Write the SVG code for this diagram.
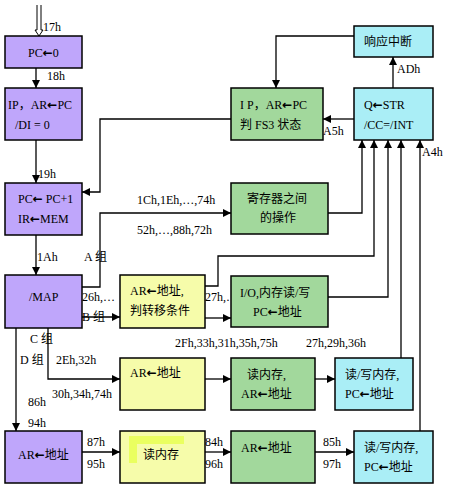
<svg xmlns="http://www.w3.org/2000/svg" width="449" height="489" viewBox="0 0 449 489">
<defs>
<marker id="ah" markerUnits="userSpaceOnUse" markerWidth="9" markerHeight="9" refX="8" refY="4" orient="auto">
<path d="M0,0 L8,4 L0,8 Z" fill="#000"/>
</marker>
<style>
.box{stroke:#000;stroke-width:1.5}
.p{fill:#bfa6fb}
.g{fill:#a2d89c}
.b{fill:#aaeef6}
.y{fill:#f6fcaa}
text{font-family:'Liberation Serif','Noto Sans CJK SC',serif;font-size:12px;fill:#000}
.a{font-family:'DejaVu Sans',sans-serif;font-weight:bold;font-size:12px}
.c{fill:none;stroke:#000;stroke-width:1.3;marker-end:url(#ah)}
</style>
</defs>
<rect width="449" height="489" fill="#fff"/>

<g id="start">
<path d="M37,5 V30 H35 L39,36 L43,30 H41 V5" fill="#fff" stroke="#000" stroke-width="1"/>
</g>

<g id="connectors">
<path class="c" d="M36,68 V88"/>
<path class="c" d="M36,140 V183"/>
<path class="c" d="M36,235 V275"/>
<path class="c" d="M231,119 H100 V192 H82"/>
<path class="c" d="M354,36 H276 V88"/>
<path class="c" d="M393,88 V57"/>
<path class="c" d="M354,119 H323"/>
<path class="c" d="M82,287 H100 V213 H231"/>
<path class="c" d="M328,213 H362 V140"/>
<path class="c" d="M82,317 H120"/>
<path class="c" d="M205,286 H218 V256 H374 V140"/>
<path class="c" d="M205,318 H231"/>
<path class="c" d="M328,297 H388 V140"/>
<path class="c" d="M48,328 V379 H120"/>
<path class="c" d="M205,379 H231"/>
<path class="c" d="M315,379 H335"/>
<path class="c" d="M401,358 V140"/>
<path class="c" d="M16,328 V431"/>
<path class="c" d="M82,452 H120"/>
<path class="c" d="M205,452 H231"/>
<path class="c" d="M315,452 H354"/>
<path class="c" d="M420,431 V140"/>
</g>

<g id="labels">
<text x="43" y="31">17h</text>
<text x="47" y="80">18h</text>
<text x="38" y="178">19h</text>
<text x="137" y="204">1Ch,1Eh,…,74h</text>
<text x="137" y="234">52h,…,88h,72h</text>
<text x="37" y="261">1Ah</text>
<text x="84" y="261">A 组</text>
<text x="82" y="301">26h,…</text>
<text x="82" y="321">B 组</text>
<text x="205" y="301">27h,…</text>
<text x="175" y="347">2Fh,33h,31h,35h,75h</text>
<text x="306" y="347">27h,29h,36h</text>
<text x="30" y="343">C 组</text>
<text x="20" y="364">D 组</text>
<text x="56" y="364">2Eh,32h</text>
<text x="52" y="398">30h,34h,74h</text>
<text x="28" y="406">86h</text>
<text x="28" y="427">94h</text>
<text x="87" y="446">87h</text>
<text x="87" y="468">95h</text>
<text x="205" y="446">84h</text>
<text x="205" y="468">96h</text>
<text x="323" y="446">85h</text>
<text x="323" y="468">97h</text>
<text x="397" y="73">ADh</text>
<text x="323" y="135">A5h</text>
<text x="422" y="156">A4h</text>
</g>

<g id="pc0"><rect class="box p" x="5" y="36" width="77" height="32"/><text x="28" y="57">PC<tspan class="a">←</tspan>0</text></g>
<g id="ip"><rect class="box p" x="5" y="88" width="77" height="52"/><text x="8" y="109">IP，AR<tspan class="a">←</tspan>PC</text><text x="15" y="129">/DI = 0</text></g>
<g id="pcinc"><rect class="box p" x="5" y="183" width="77" height="52"/><text x="18" y="203">PC<tspan class="a">←</tspan> PC+1</text><text x="18" y="223">IR<tspan class="a">←</tspan>MEM</text></g>
<g id="map"><rect class="box p" x="5" y="275" width="77" height="53"/><text x="29" y="301">/MAP</text></g>
<g id="ard"><rect class="box p" x="5" y="431" width="77" height="52"/><text x="18" y="459">AR<tspan class="a">←</tspan>地址</text></g>

<g id="ipfs3"><rect class="box g" x="231" y="88" width="92" height="52"/><text x="240" y="109">I P，AR<tspan class="a">←</tspan>PC</text><text x="240" y="129">判 FS3 状态</text></g>
<g id="int"><rect class="box b" x="354" y="26" width="79" height="31"/><text x="364" y="46">响应中断</text></g>
<g id="q"><rect class="box b" x="354" y="88" width="79" height="52"/><text x="364" y="109">Q<tspan class="a">←</tspan>STR</text><text x="364" y="129">/CC=/INT</text></g>
<g id="reg"><rect class="box g" x="231" y="183" width="97" height="51"/><text x="247" y="203">寄存器之间</text><text x="260" y="222">的操作</text></g>
<g id="ya"><rect class="box y" x="120" y="275" width="85" height="53"/><text x="130" y="295">AR<tspan class="a">←</tspan>地址,</text><text x="130" y="315">判转移条件</text></g>
<g id="io"><rect class="box g" x="231" y="276" width="97" height="51"/><text x="240" y="297">I/O,内存读/写</text><text x="253" y="316">PC<tspan class="a">←</tspan>地址</text></g>
<g id="yc"><rect class="box y" x="120" y="358" width="85" height="52"/><text x="130" y="377">AR<tspan class="a">←</tspan>地址</text></g>
<g id="gc"><rect class="box g" x="231" y="358" width="84" height="52"/><text x="247" y="379">读内存,</text><text x="241" y="398">AR<tspan class="a">←</tspan>地址</text></g>
<g id="bc"><rect class="box b" x="335" y="358" width="78" height="52"/><text x="345" y="379">读/写内存,</text><text x="345" y="398">PC<tspan class="a">←</tspan>地址</text></g>
<g id="yd"><rect class="box y" x="120" y="431" width="85" height="52"/><path d="M129,436 H184 V444 H137 V463 H129 Z" fill="#eaff60"/><text x="143" y="459">读内存</text></g>
<g id="gd"><rect class="box g" x="231" y="431" width="84" height="52"/><text x="241" y="452">AR<tspan class="a">←</tspan>地址</text></g>
<g id="bd"><rect class="box b" x="354" y="431" width="79" height="52"/><text x="364" y="452">读/写内存,</text><text x="364" y="471">PC<tspan class="a">←</tspan>地址</text></g>
</svg>
